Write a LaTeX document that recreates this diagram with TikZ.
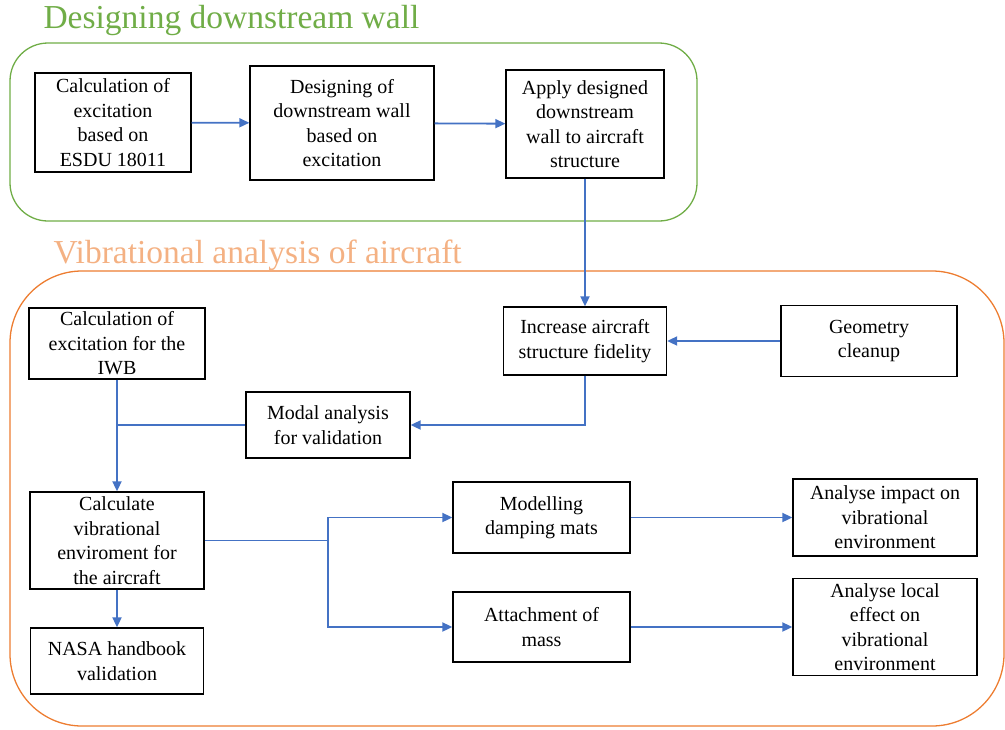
\documentclass[tikz,border=0pt]{standalone}
\usepackage{fontspec}
\setmainfont{Liberation Serif}
\usetikzlibrary{arrows.meta}
\definecolor{wallgreen}{HTML}{70AD47}
\definecolor{vibborder}{HTML}{ED7D31}
\definecolor{vibtitle}{HTML}{F4B183}
\definecolor{flowblue}{HTML}{4472C4}

\begin{document}
\begin{tikzpicture}[x=1pt,y=-1pt,
    box/.style={draw,line width=1.3pt,align=center,inner sep=0pt,
        font=\fontsize{20}{24.5}\selectfont},
    flow/.style={draw=flowblue,line width=1.8pt,-{Triangle[length=10pt,width=9pt]}},
    link/.style={draw=flowblue,line width=1.8pt}]
    \useasboundingbox (0,0) rectangle (1005,729);

    \draw[wallgreen,line width=1.3pt,rounded corners=38pt] (10,43) rectangle (697,221);
    \node[wallgreen,anchor=base west,font=\fontsize{33.5}{40}\selectfont] (walltitle) at (40,28) {Designing downstream wall};

    \draw[vibborder,line width=1.3pt,rounded corners=72pt] (10,271) rectangle (1004,726);
    \node[vibtitle,anchor=base west,font=\fontsize{33.5}{40}\selectfont] (vibtitle) at (50,263) {Vibrational analysis of aircraft};

    \node[box,minimum width=156pt,minimum height=99pt] (esdu) at (113,122.5) {Calculation of\\excitation\\based on\\ESDU 18011};
    \node[box,minimum width=184pt,minimum height=114pt] (design) at (342,123) {Designing of\\downstream wall\\based on\\excitation};
    \node[box,minimum width=158pt,minimum height=108pt] (apply) at (585,124) {Apply designed\\downstream\\wall to aircraft\\structure};

    \node[box,minimum width=163pt,minimum height=68pt] (fidelity) at (585,341) {Increase aircraft\\structure fidelity};
    \node[box,minimum width=176pt,minimum height=71pt] (cleanup) at (869,341) {Geometry\\cleanup};
    \node[box,minimum width=176pt,minimum height=71pt] (iwb) at (117,343.5) {Calculation of\\excitation for the\\IWB};
    \node[box,minimum width=164pt,minimum height=66pt] (modal) at (328,425) {Modal analysis\\for validation};
    \node[box,minimum width=174pt,minimum height=97pt] (vibenv) at (117,540.5) {Calculate\\vibrational\\enviroment for\\the aircraft};
    \node[box,minimum width=173pt,minimum height=66pt] (nasa) at (117,661) {NASA handbook\\validation};
    \node[box,minimum width=177pt,minimum height=71pt] (damping) at (541.5,517.5) {Modelling\\damping mats};
    \node[box,minimum width=177pt,minimum height=70pt] (mass) at (541.5,627) {Attachment of\\mass};
    \node[box,minimum width=184pt,minimum height=77pt] (impact) at (885,517.5) {Analyse impact on\\vibrational\\environment};
    \node[box,minimum width=184pt,minimum height=97pt] (local) at (885,627) {Analyse local\\effect on\\vibrational\\environment};

    \coordinate (join) at (iwb.south |- modal.west);
    \coordinate (split) at (328,540.5);

    \draw[flow] (esdu) -- (design);
    \draw[flow] (design) -- (apply);
    \draw[flow] (apply) -- (fidelity);
    \draw[flow] (cleanup) -- (fidelity);
    \draw[flow] (fidelity.south) |- (modal.east);
    \draw[link] (modal.west) -- (join);
    \draw[flow] (iwb) -- (vibenv);
    \draw[flow] (vibenv) -- (nasa);
    \draw[link] (vibenv.east) -- (split);
    \draw[flow] (split) |- (damping.west);
    \draw[flow] (split) |- (mass.west);
    \draw[flow] (damping) -- (impact);
    \draw[flow] (mass) -- (local);
\end{tikzpicture}
\end{document}
